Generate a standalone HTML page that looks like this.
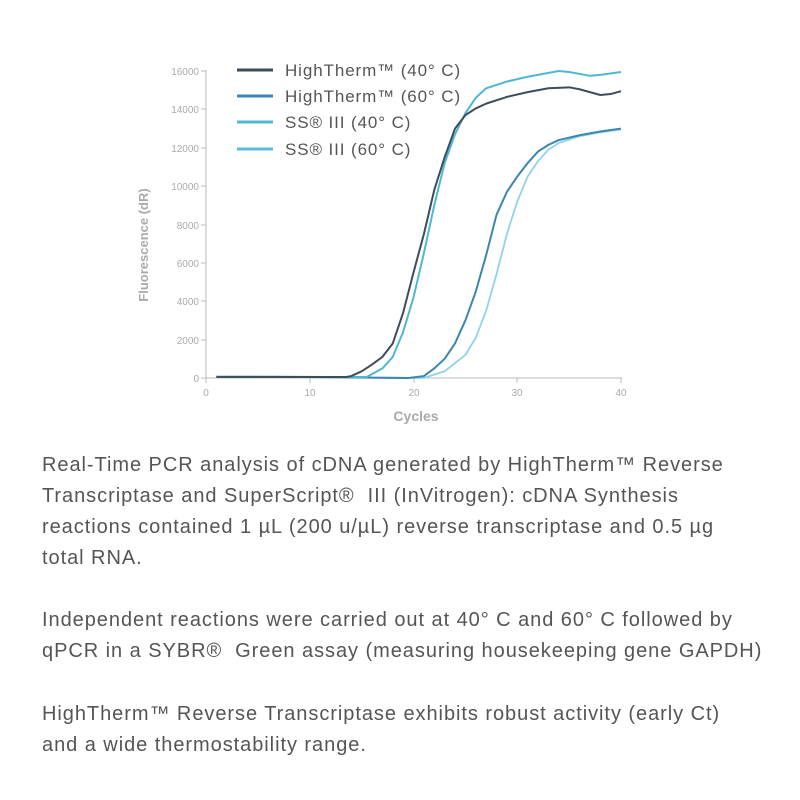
<!DOCTYPE html>
<html><head><meta charset="utf-8"><style>
body{margin:0;width:800px;height:800px;background:#fff;overflow:hidden;position:relative;font-family:"Liberation Sans",sans-serif}
.p{position:absolute;left:42px;color:#555;font-size:20px;letter-spacing:0.95px;line-height:31px;white-space:nowrap}
</style></head><body>
<svg width="800" height="440" style="position:absolute;left:0;top:0">
<g font-family="Liberation Sans" font-size="10" fill="#aaa" text-anchor="end">
<line x1="206" y1="70" x2="206" y2="378" stroke="#bbb"/>
<line x1="206" y1="378" x2="622" y2="378" stroke="#bbb"/>
<g stroke="#bbb">
<line x1="201" y1="71" x2="206" y2="71"/><line x1="201" y1="109" x2="206" y2="109"/><line x1="201" y1="148" x2="206" y2="148"/><line x1="201" y1="186" x2="206" y2="186"/><line x1="201" y1="225" x2="206" y2="225"/><line x1="201" y1="263" x2="206" y2="263"/><line x1="201" y1="301" x2="206" y2="301"/><line x1="201" y1="340" x2="206" y2="340"/><line x1="201" y1="378" x2="206" y2="378"/>
<line x1="206" y1="378" x2="206" y2="383"/><line x1="310" y1="378" x2="310" y2="383"/><line x1="414" y1="378" x2="414" y2="383"/><line x1="517" y1="378" x2="517" y2="383"/><line x1="621" y1="378" x2="621" y2="383"/>
</g>
<text x="199" y="75">16000</text><text x="199" y="113">14000</text><text x="199" y="152">12000</text><text x="199" y="190">10000</text><text x="199" y="229">8000</text><text x="199" y="267">6000</text><text x="199" y="305">4000</text><text x="199" y="344">2000</text><text x="199" y="382">0</text>
<g text-anchor="middle"><text x="206" y="396">0</text><text x="310" y="396">10</text><text x="414" y="396">20</text><text x="517" y="396">30</text><text x="621" y="396">40</text></g>
<text x="416" y="421" text-anchor="middle" font-size="14" font-weight="bold" fill="#aaa">Cycles</text>
<text transform="translate(148,245) rotate(-90)" text-anchor="middle" font-size="13" font-weight="bold" fill="#aaa">Fluorescence (dR)</text>
</g>
<g transform="translate(206,378) scale(10.375,-0.019187)" fill="none" stroke-width="2" stroke-linejoin="round">
<polyline vector-effect="non-scaling-stroke" stroke="#8fd3e4" stroke-width="1.8" points="1,50 10,40 21,0 23,350 25,1200 26,2100 27,3500 28,5400 29,7500 30,9200 31,10500 32,11300 33,11900 34,12250 36,12600 38,12800 40,12950"/>
<polyline vector-effect="non-scaling-stroke" stroke="#3a86b0" points="1,60 10,50 19.5,0 21,100 22,500 23,1000 24,1800 25,3000 26,4500 27,6400 28,8500 29,9700 30,10500 31,11200 32,11800 33,12150 34,12400 36,12650 38,12850 40,13000"/>
<polyline vector-effect="non-scaling-stroke" stroke="#4fb8d0" points="1,60 13,50 15.5,50 17,500 18,1100 19,2400 20,4200 21,6500 22,9000 23,11200 24,12700 25,13800 26,14600 27,15100 29,15450 31,15700 34,16000 35,15950 37,15750 38,15800 40,15950"/>
<polyline vector-effect="non-scaling-stroke" stroke="#3d4d5a" points="1,60 12,50 13.5,50 14,100 15,350 16,700 17,1100 18,1800 19,3400 20,5500 21,7500 22,9800 23,11500 24,13000 25,13700 26,14050 27,14300 29,14650 31,14900 33,15100 35,15150 36,15050 37,14900 38,14750 39,14800 40,14950"/>
</g>
<g stroke-width="3">
<line x1="237" y1="70" x2="273" y2="70" stroke="#3d4d5a"/>
<line x1="237" y1="96" x2="273" y2="96" stroke="#3a86b0"/>
<line x1="237" y1="122" x2="273" y2="122" stroke="#4fb8d0"/>
<line x1="237" y1="149" x2="273" y2="149" stroke="#5cbdd4"/>
</g>
<g font-family="Liberation Sans" font-size="17" fill="#555" letter-spacing="0.9">
<text x="285" y="76">HighTherm™ (40° C)</text>
<text x="285" y="102">HighTherm™ (60° C)</text>
<text x="285" y="128">SS® III (40° C)</text>
<text x="285" y="155">SS® III (60° C)</text>
</g>
</svg>
<div class="p" style="top:450px">Real-Time PCR analysis of cDNA generated by HighTherm™ Reverse<br>Transcriptase and SuperScript®&nbsp; III (InVitrogen): cDNA Synthesis<br>reactions contained 1 µL (200 u/µL) reverse transcriptase and 0.5 µg<br>total RNA.</div>
<div class="p" style="top:605px">Independent reactions were carried out at 40° C and 60° C followed by<br>qPCR in a SYBR®&nbsp; Green assay (measuring housekeeping gene GAPDH)</div>
<div class="p" style="top:699px">HighTherm™ Reverse Transcriptase exhibits robust activity (early Ct)<br>and a wide thermostability range.</div>
</body></html>
